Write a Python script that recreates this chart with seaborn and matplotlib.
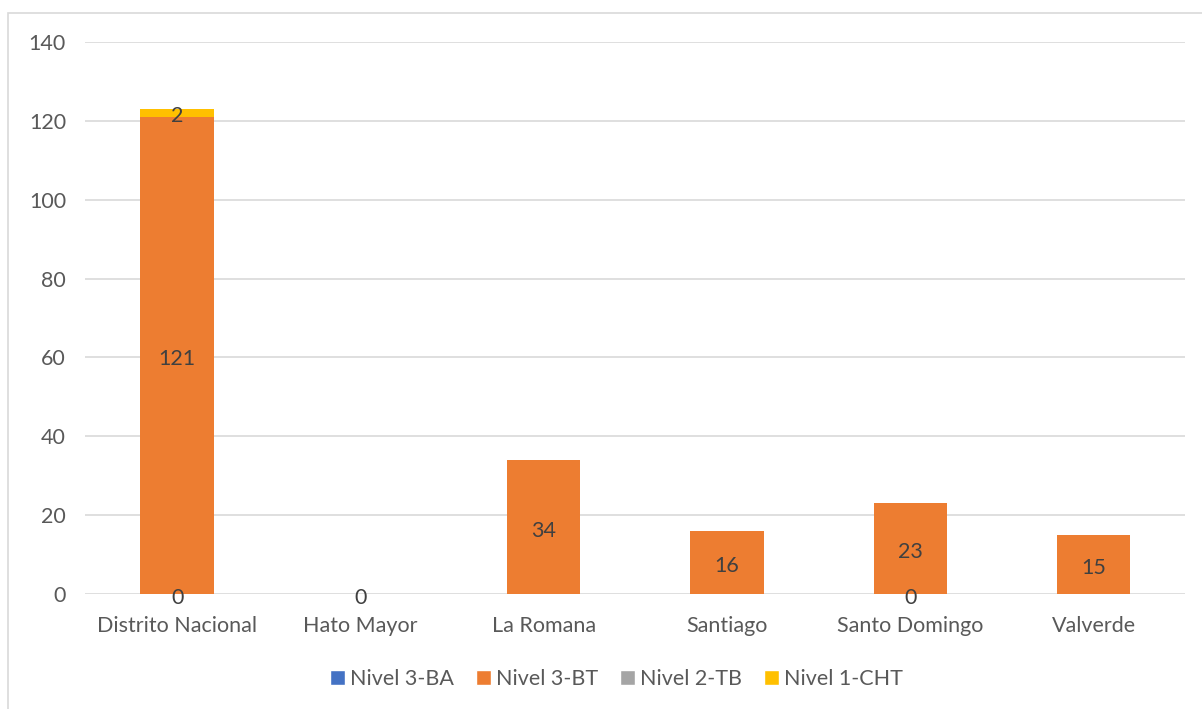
import numpy as np
import pandas as pd
import matplotlib
matplotlib.use("Agg")
import matplotlib.pyplot as plt
import seaborn as sns
from matplotlib.patches import Rectangle, Patch

# ---- data ----
categories = ["Distrito Nacional", "Hato Mayor", "La Romana", "Santiago",
              "Santo Domingo", "Valverde"]
nivel_3_ba = [0, 0, np.nan, np.nan, 0, np.nan]
nivel_3_bt = [121, np.nan, 34, 16, 23, 15]
nivel_2_tb = [np.nan, np.nan, np.nan, np.nan, np.nan, np.nan]
nivel_1_cht = [2, np.nan, np.nan, np.nan, np.nan, np.nan]

series_names = ["Nivel 3-BA", "Nivel 3-BT", "Nivel 2-TB", "Nivel 1-CHT"]
series_colors = ["#4472C4", "#ED7D31", "#A5A5A5", "#FFC000"]
TEXT = "#595959"

df = pd.DataFrame({
    "cat": categories,
    series_names[0]: nivel_3_ba,
    series_names[1]: nivel_3_bt,
    series_names[2]: nivel_2_tb,
    series_names[3]: nivel_1_cht,
})

sns.set_theme(style="white")
plt.rcParams["font.family"] = ["Lato", "DejaVu Sans"]

fig = plt.figure(figsize=(12.02, 7.09), dpi=100)
ax = fig.add_axes([0.0711, 0.1622, 0.915, 0.7786])

# cumulative stacks, drawn from the top down so each layer shows
filled = df[series_names].fillna(0)
cum = filled.cumsum(axis=1)
for i in range(len(series_names) - 1, -1, -1):
    name = series_names[i]
    sns.barplot(x=df["cat"], y=cum[name], color=series_colors[i],
                width=0.4, ax=ax, saturation=1, linewidth=0, order=categories)

# data labels at segment centres
for j, cat in enumerate(categories):
    base = 0
    for name in series_names:
        v = df.loc[j, name]
        if pd.notna(v):
            ax.text(j, base + v / 2 - 0.9, f"{int(v)}", ha="center", va="center",
                    fontsize=15.5, color="#404040")
            base += v

ax.set_ylim(0, 140)
ax.set_xlim(-0.5, len(categories) - 0.5)
ax.set_yticks(range(0, 141, 20))
ax.yaxis.grid(True, color="#D9D9D9", linewidth=1.2)
ax.set_axisbelow(True)
for s in ax.spines.values():
    s.set_visible(False)
ax.tick_params(axis="both", length=0, labelsize=15.5, labelcolor=TEXT)
ax.tick_params(axis="y", pad=14)
ax.tick_params(axis="x", pad=16)
ax.set_xlabel("")
ax.set_ylabel("")

handles = [Patch(facecolor=c, label=n) for c, n in zip(series_colors, series_names)]
leg = fig.legend(handles=handles, loc="center", bbox_to_anchor=(0.513, 0.042),
                 ncol=4, frameon=False, fontsize=15.5, handlelength=0.7,
                 handleheight=0.7, handletextpad=0.25, columnspacing=1.0)
for t in leg.get_texts():
    t.set_color(TEXT)

# chart frame
fig.patches.append(Rectangle((8 / 1202, -0.01), 1.02, 1 - 13 / 709 + 0.01,
                             transform=fig.transFigure, fill=False,
                             edgecolor="#D9D9D9", linewidth=1.2))

fig.savefig("out.png", dpi=100)
